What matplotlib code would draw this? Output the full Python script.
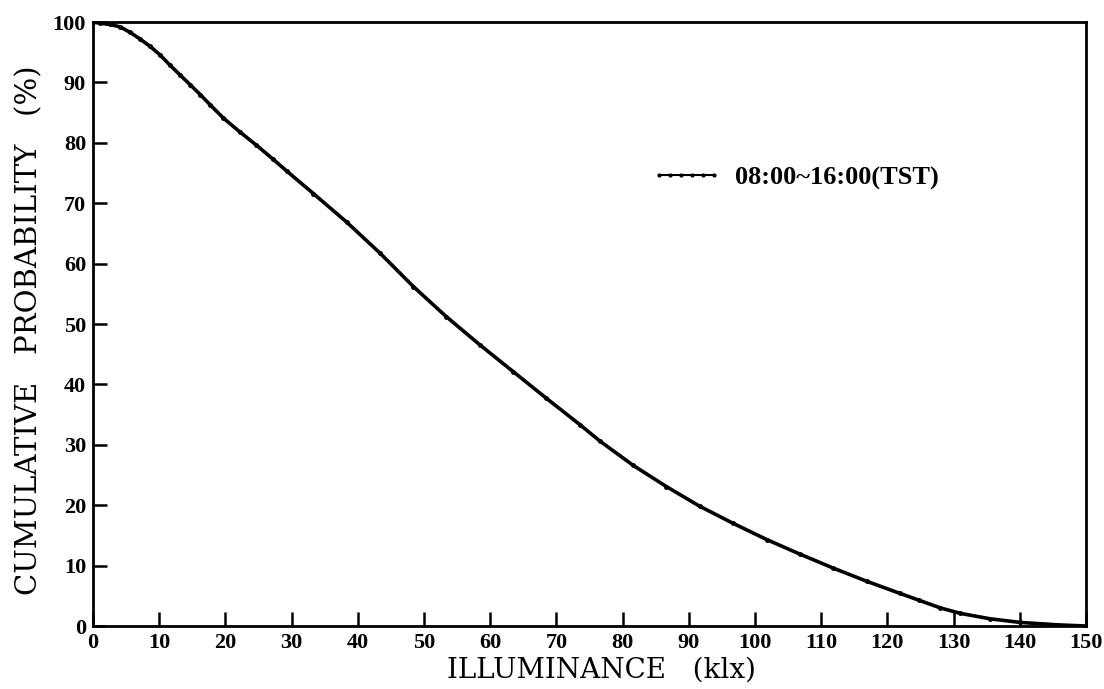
import matplotlib
matplotlib.use("Agg")
import matplotlib.pyplot as plt
import numpy as np

# illuminance (klx) and cumulative probability (%)
ILLUM = [0, 1.1, 2.6, 4.1, 5.6, 7.1, 8.6, 10.1, 11.6, 13.1, 14.7, 16.2, 17.7,
         19.7, 22.2, 24.7, 27.2, 29.3, 33.3, 38.3, 43.4, 48.4, 53.4, 58.5,
         63.5, 68.5, 73.6, 76.6, 81.6, 86.6, 91.7, 96.7, 101.8, 106.8, 111.8,
         116.9, 121.9, 124.7, 128.0, 131.0, 135.5, 140.0, 145.6, 150.0]
CUM_PROB = [100.0, 99.8, 99.6, 99.2, 98.3, 97.2, 96.0, 94.6, 92.9, 91.3, 89.6,
            88.0, 86.3, 84.1, 81.8, 79.6, 77.3, 75.3, 71.6, 66.9, 61.7, 56.2,
            51.2, 46.5, 42.1, 37.7, 33.3, 30.6, 26.6, 23.1, 19.8, 17.0, 14.3,
            11.9, 9.6, 7.4, 5.4, 4.3, 3.0, 2.1, 1.2, 0.6, 0.2, 0.0]

SERIES_LABEL = "08:00~16:00(TST)"
XTICKS = np.arange(0, 151, 10)
YTICKS = np.arange(0, 101, 10)

plt.rcParams.update({
    "font.family": ["DejaVu Serif"],
})
TICK_FONT = {"family": "Liberation Serif", "weight": "bold", "size": 16}

fig = plt.figure(figsize=(11.04, 6.89), dpi=100)
ax = fig.add_axes([0.0842, 0.0914, 0.8995, 0.8766])

ax.plot(ILLUM, CUM_PROB, color="black", linewidth=2.6, marker=".",
        markersize=5, label=SERIES_LABEL)

ax.set_xlim(0, 150)
ax.set_ylim(0, 100)
ax.set_xticks(XTICKS)
ax.set_yticks(YTICKS)
ax.set_xticklabels([str(v) for v in XTICKS], fontdict=TICK_FONT)
ax.set_yticklabels([str(v) for v in YTICKS], fontdict=TICK_FONT)
ax.tick_params(direction="in", length=10, width=1.8,
               top=False, right=False)
ax.tick_params(axis="x", pad=5)
ax.tick_params(axis="y", pad=5)
for sp in ax.spines.values():
    sp.set_linewidth(2)

ax.set_xlabel("ILLUMINANCE   (klx)", fontsize=20)
ax.set_ylabel("CUMULATIVE   PROBABILITY   (%)", fontsize=21)
ax.xaxis.set_label_coords(0.512, -0.050)
ax.yaxis.set_label_coords(-0.050, 0.49)

leg = ax.legend(loc="center left", bbox_to_anchor=(0.562, 0.742), frameon=False,
                numpoints=6, handlelength=2.69, handletextpad=0.5, borderpad=0,
                borderaxespad=0,
                prop={"family": "Liberation Serif", "size": 19, "weight": "bold"})
for h in leg.legend_handles:
    h.set_linewidth(1.5)
    h.set_markersize(4)

fig.savefig("out.png", dpi=100)
